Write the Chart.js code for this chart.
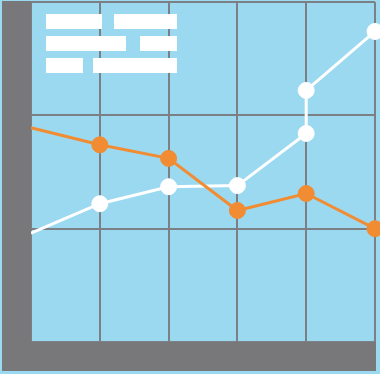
<!DOCTYPE html>
<html>
<head>
<meta charset="utf-8">
<script src="https://cdn.jsdelivr.net/npm/chart.js@4/dist/chart.umd.min.js"></script>
<style>
  html, body { margin: 0; padding: 0; background: #9BD9F1; }
  #wrap { width: 380px; height: 374px; position: relative; }
</style>
</head>
<body>
<div id="wrap"><canvas id="c" width="380" height="374"></canvas></div>
<script>
// Data
const orangeX = [0, 1, 2, 3, 4, 5];
const orangeY = [1.89, 1.74, 1.62, 1.16, 1.31, 1.0];
const whiteX = [0, 1, 2, 3, 4, 4, 5];
const whiteY = [0.96, 1.22, 1.37, 1.38, 1.84, 2.22, 2.74];
const xTicks = [0, 1, 2, 3, 4, 5];
const yTicks = [0, 1, 2, 3];

const BG = '#9BD9F1';
const GRAY = '#78787A';
const GRID = '#7C7F83';
const ORANGE = '#F28C33';
const WHITE = '#FFFFFF';

const toPts = (xs, ys) => xs.map((x, i) => ({ x: x, y: ys[i] }));
const radii = (n) => Array.from({ length: n }, (_, i) => (i === 0 ? 0 : 8));

const framePlugin = {
  id: 'frame',
  beforeDraw(chart) {
    const ctx = chart.ctx;
    ctx.save();
    ctx.fillStyle = BG;
    ctx.fillRect(0, 0, chart.width, chart.height);
    ctx.restore();
  },
  afterDatasetsDraw(chart) {
    const ctx = chart.ctx;
    const a = chart.chartArea;
    ctx.save();
    ctx.fillStyle = GRAY;
    // left bar
    ctx.fillRect(2, 1, a.left - 2, 370);
    // bottom bar
    ctx.fillRect(2, a.bottom, a.right + 1 - 2, 371 - a.bottom);
    // legend-like placeholder blocks
    ctx.fillStyle = WHITE;
    const blocks = [
      [46, 14, 56, 15], [114, 14, 63, 15],
      [46, 36, 80, 15], [140, 36, 37, 15],
      [46, 58, 37, 15], [93, 58, 84, 15]
    ];
    blocks.forEach(b => ctx.fillRect(b[0], b[1], b[2], b[3]));
    ctx.restore();
  }
};

new Chart(document.getElementById('c'), {
  type: 'line',
  data: {
    datasets: [
      {
        data: toPts(orangeX, orangeY),
        borderColor: ORANGE,
        backgroundColor: ORANGE,
        pointBackgroundColor: ORANGE,
        pointBorderColor: ORANGE,
        borderWidth: 3,
        pointRadius: radii(orangeX.length),
        pointBorderWidth: 1,
        tension: 0,
        clip: false
      },
      {
        data: toPts(whiteX, whiteY),
        borderColor: WHITE,
        backgroundColor: WHITE,
        pointBackgroundColor: WHITE,
        pointBorderColor: WHITE,
        borderWidth: 3,
        pointRadius: radii(whiteX.length),
        pointBorderWidth: 1,
        tension: 0,
        clip: false
      }
    ]
  },
  options: {
    responsive: false,
    animation: false,
    events: [],
    layout: { autoPadding: false, padding: { left: 31, top: 2, right: 5, bottom: 32 } },
    plugins: { legend: { display: false }, tooltip: { enabled: false } },
    scales: {
      x: {
        type: 'linear',
        min: xTicks[0],
        max: xTicks[xTicks.length - 1],
        afterBuildTicks: s => { s.ticks = xTicks.map(v => ({ value: v })); },
        ticks: { display: false },
        grid: { color: GRID, lineWidth: 2, drawTicks: false },
        border: { display: false }
      },
      y: {
        type: 'linear',
        min: yTicks[0],
        max: yTicks[yTicks.length - 1],
        afterBuildTicks: s => { s.ticks = yTicks.map(v => ({ value: v })); },
        ticks: { display: false },
        grid: { color: GRID, lineWidth: 2, drawTicks: false },
        border: { display: false }
      }
    }
  },
  plugins: [framePlugin]
});
</script>
</body>
</html>
